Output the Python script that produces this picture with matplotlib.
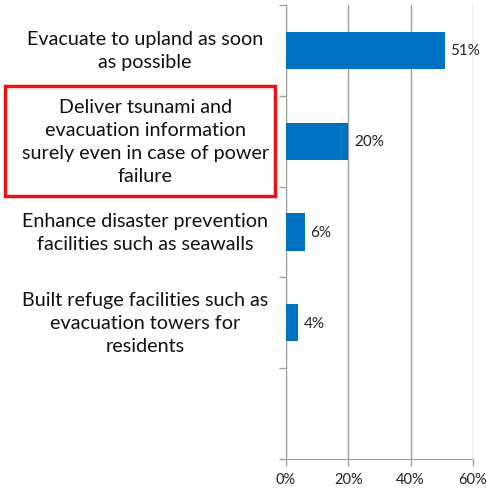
import matplotlib.pyplot as plt
from matplotlib.patches import Rectangle
from matplotlib.transforms import blended_transform_factory

# dados
labels = [
    "Evacuate to upland as soon\nas possible",
    "Deliver tsunami and\nevacuation information\nsurely even in case of power\nfailure",
    "Enhance disaster prevention\nfacilities such as seawalls",
    "Built refuge facilities such as\nevacuation towers for\nresidents",
]
values = [51, 20, 6, 4]
n_slots = 5

plt.rcParams['font.family'] = ['Lato', 'DejaVu Sans']

fig = plt.figure(figsize=(4.87, 4.89), dpi=100)
ax = fig.add_axes([0.587, 0.059, 0.384, 0.929])

pos = list(range(len(values)))
ax.barh(pos, values, height=0.41, color='#0070C0', zorder=3)
for p, v in zip(pos, values):
    ax.text(v + 1.8, p, f"{v}%", va='center', ha='left', fontsize=11, color='#222222')

ax.set_xlim(0, 60)
ax.set_ylim(n_slots - 0.5, -0.5)
ax.set_xticks([0, 20, 40, 60])
ax.set_xticklabels([f"{t}%" for t in [0, 20, 40, 60]], fontsize=10.5, color='#222222')
ax.grid(axis='x', color='#a0a0a0', linewidth=1, zorder=0)

ax.set_yticks([])
ax.set_yticks([i - 0.5 for i in range(n_slots + 1)], minor=True)
ax.tick_params(axis='y', which='minor', length=5, color='#a0a0a0', width=1)
ax.tick_params(axis='x', length=5, color='#a0a0a0', width=1, pad=4)

for s in ['top', 'right']:
    ax.spines[s].set_visible(False)
for s in ['left', 'bottom']:
    ax.spines[s].set_color('#a0a0a0')

trans = blended_transform_factory(fig.transFigure, ax.transData)
for p, lab in zip(pos, labels):
    ax.text(0.298, p, lab, transform=trans, ha='center', va='center',
            multialignment='center', fontsize=14.2, linespacing=1.42,
            color='#111111', clip_on=False)

# caixa vermelha em volta do segundo rótulo
fig.patches.append(Rectangle((5 / 487, 1 - 197 / 489), 270 / 487, 110 / 489,
                             transform=fig.transFigure, fill=False,
                             edgecolor='#ee1111', linewidth=2.5))

fig.savefig('out.png', dpi=100)
